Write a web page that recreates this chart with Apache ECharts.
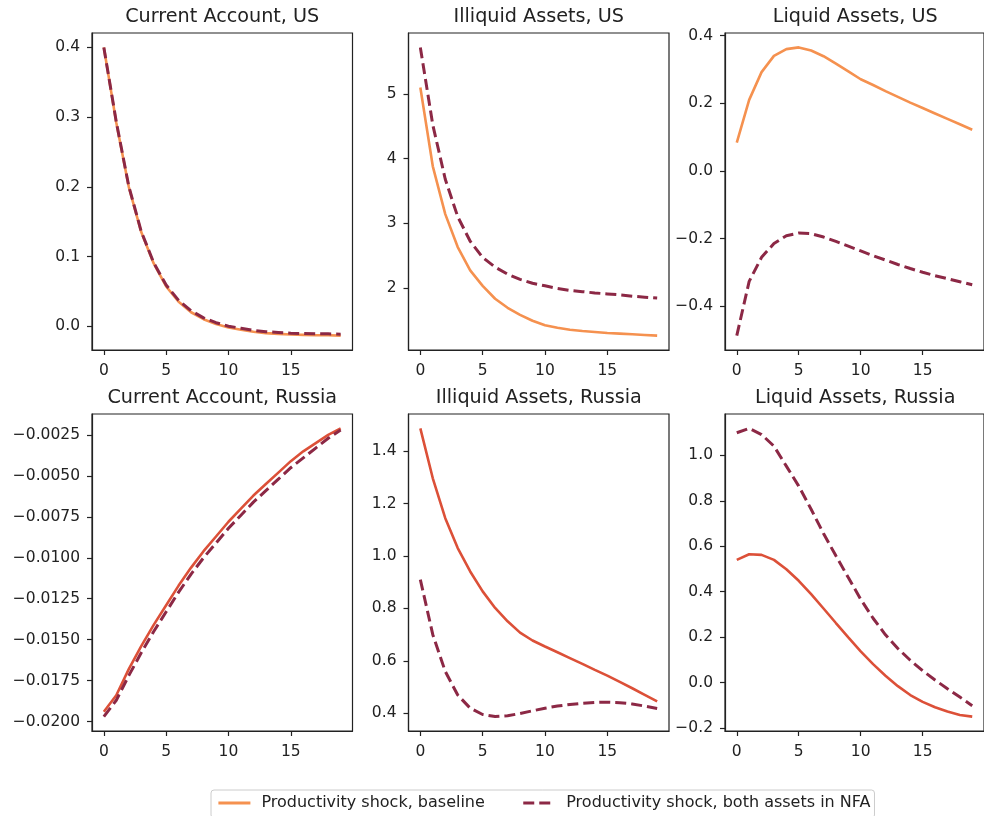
<!DOCTYPE html>
<html><head><meta charset="utf-8">
<script src="https://cdn.jsdelivr.net/npm/echarts@6/dist/echarts.min.js"></script>
<style>html,body{margin:0;padding:0;background:#fff}#c{width:984px;height:816px}</style>
</head><body><div id="c"></div>
<script>
// ---------------- data ----------------
const periods = [0,1,2,3,4,5,6,7,8,9,10,11,12,13,14,15,16,17,18,19];

const titles = ['Current Account, US','Illiquid Assets, US','Liquid Assets, US',
                'Current Account, Russia','Illiquid Assets, Russia','Liquid Assets, Russia'];
const seriesNames = ['Productivity shock, baseline','Productivity shock, both assets in NFA'];

const caUS_base  = [0.400,0.292,0.200,0.135,0.090,0.057,0.035,0.020,0.010,0.003,-0.002,-0.005,-0.008,-0.010,-0.011,-0.012,-0.0125,-0.013,-0.013,-0.0135];
const caUS_nfa   = [0.400,0.293,0.201,0.136,0.091,0.059,0.037,0.022,0.012,0.005,0.000,-0.003,-0.006,-0.008,-0.009,-0.010,-0.0105,-0.011,-0.011,-0.0115];
const illUS_base = [5.10,3.88,3.14,2.63,2.27,2.03,1.83,1.69,1.58,1.49,1.42,1.38,1.35,1.33,1.315,1.30,1.29,1.28,1.27,1.26];
const illUS_nfa  = [5.72,4.52,3.68,3.10,2.72,2.47,2.32,2.21,2.13,2.07,2.03,1.99,1.96,1.94,1.92,1.905,1.89,1.87,1.855,1.84];
const liqUS_base = [0.084,0.210,0.292,0.340,0.360,0.365,0.356,0.339,0.317,0.294,0.271,0.254,0.236,0.219,0.202,0.186,0.170,0.154,0.138,0.122];
const liqUS_nfa  = [-0.486,-0.326,-0.255,-0.214,-0.191,-0.183,-0.185,-0.195,-0.208,-0.222,-0.236,-0.250,-0.263,-0.276,-0.288,-0.299,-0.309,-0.318,-0.327,-0.336];
const caRU_base  = [-0.0194,-0.0184,-0.0168,-0.0154,-0.0141,-0.0129,-0.0117,-0.0106,-0.0096,-0.0087,-0.0078,-0.0070,-0.0062,-0.0055,-0.0048,-0.0041,-0.0035,-0.0030,-0.0025,-0.0021];
const caRU_nfa   = [-0.0197,-0.0187,-0.0172,-0.0158,-0.0145,-0.0133,-0.0121,-0.0110,-0.0100,-0.0091,-0.0082,-0.0074,-0.0066,-0.0059,-0.0052,-0.0045,-0.0039,-0.0033,-0.0027,-0.0022];
const illRU_base = [1.486,1.296,1.144,1.030,0.941,0.865,0.802,0.751,0.708,0.678,0.655,0.633,0.611,0.589,0.566,0.544,0.520,0.496,0.471,0.446];
const illRU_nfa  = [0.910,0.700,0.560,0.470,0.420,0.396,0.388,0.391,0.400,0.410,0.420,0.428,0.434,0.439,0.442,0.443,0.441,0.436,0.428,0.419];
const liqRU_base = [0.540,0.565,0.562,0.540,0.499,0.448,0.389,0.326,0.262,0.199,0.137,0.081,0.030,-0.016,-0.055,-0.085,-0.109,-0.128,-0.143,-0.150];
const liqRU_nfa  = [1.100,1.119,1.092,1.041,0.953,0.865,0.763,0.656,0.558,0.462,0.367,0.283,0.210,0.150,0.098,0.052,0.011,-0.027,-0.064,-0.102];

const xTicks = [0,5,10,15];
const yTicks = [
  [0,0.1,0.2,0.3,0.4],
  [2,3,4,5],
  [-0.4,-0.2,0,0.2,0.4],
  [-0.02,-0.0175,-0.015,-0.0125,-0.01,-0.0075,-0.005,-0.0025],
  [0.4,0.6,0.8,1.0,1.2,1.4],
  [-0.2,0,0.2,0.4,0.6,0.8,1.0]
];
const yDecimals = [1,0,1,4,1,1];

// ---------------- layout / style ----------------
const panels = [
  [caUS_base, caUS_nfa], [illUS_base, illUS_nfa], [liqUS_base, liqUS_nfa],
  [caRU_base, caRU_nfa], [illRU_base, illRU_nfa], [liqRU_base, liqRU_nfa]
];
const colLeft = [92, 408.5, 725];
const rowTop = [33, 414];
const gW = 260.5, gH = 317;
const solidColors = ['#F5914F','#F5914F','#F5914F','#DC5038','#DC5038','#DC5038'];
const dashColor = '#8C2845';
const txt = '#222';
const FONT = 'DejaVu Sans';
const fmt = (v, d) => v.toFixed(d).replace('-', '\u2212');

function pad(arrs) {
  let lo = Infinity, hi = -Infinity;
  arrs.forEach(a => a.forEach(v => { lo = Math.min(lo, v); hi = Math.max(hi, v); }));
  const m = 0.05 * (hi - lo);
  return [lo - m, hi + m];
}

const grids = [], xAxes = [], yAxes = [], series = [], titleArr = [];
const [xmin, xmax] = pad([periods]);
panels.forEach((pair, i) => {
  const r = Math.floor(i / 3), c = i % 3;
  grids.push({left: colLeft[c], top: rowTop[r], width: gW, height: gH, show: true,
    borderColor: '#222', borderWidth: 1.2, backgroundColor: 'transparent', containLabel: false});
  xAxes.push({type: 'value', gridIndex: i, min: xmin, max: xmax,
    axisLine: {show: true, onZero: false, lineStyle: {color: '#222', width: 1.2}},
    splitLine: {show: false},
    axisTick: {show: true, inside: false, length: 5, lineStyle: {color: '#222', width: 1.2}, customValues: xTicks},
    axisLabel: {customValues: xTicks, margin: 13, fontSize: 15.5, color: txt, fontFamily: FONT,
      formatter: v => fmt(v, 0)}});
  const [ymin, ymax] = pad(pair);
  yAxes.push({type: 'value', gridIndex: i, min: ymin, max: ymax,
    axisLine: {show: true, onZero: false, lineStyle: {color: '#222', width: 1.2}},
    splitLine: {show: false},
    axisTick: {show: true, inside: false, length: 5, lineStyle: {color: '#222', width: 1.2}, customValues: yTicks[i]},
    axisLabel: {customValues: yTicks[i], margin: 12, fontSize: 15.5, color: txt, fontFamily: FONT,
      formatter: v => fmt(v, yDecimals[i])}});
  titleArr.push({text: titles[i], left: colLeft[c] + gW / 2, top: rowTop[r] - 25, textAlign: 'center',
    padding: 0,
    textStyle: {fontSize: 19.2, fontWeight: 'normal', color: txt, fontFamily: FONT}});
  series.push({name: seriesNames[0], type: 'line', xAxisIndex: i, yAxisIndex: i, symbol: 'none',
    data: periods.map((p, k) => [p, pair[0][k]]), lineStyle: {color: solidColors[i], width: 2.6},
    itemStyle: {color: solidColors[i]}, z: 2, silent: true, animation: false});
  series.push({name: seriesNames[1], type: 'line', xAxisIndex: i, yAxisIndex: i, symbol: 'none',
    data: periods.map((p, k) => [p, pair[1][k]]), lineStyle: {color: dashColor, width: 3, type: [11, 5]},
    itemStyle: {color: dashColor}, z: 3, silent: true, animation: false});
});

const chart = echarts.init(document.getElementById('c'), null, {renderer: 'canvas'});
chart.setOption({
  backgroundColor: '#fff',
  animation: false,
  title: titleArr,
  grid: grids,
  xAxis: xAxes,
  yAxis: yAxes,
  series: series,
  legend: {data: seriesNames, left: 211, top: 790, padding: [4, 4, 6, 6], itemWidth: 32, itemHeight: 14,
    itemGap: 37, borderColor: '#ccc', borderWidth: 1, borderRadius: 3,
    itemStyle: {color: 'transparent', borderWidth: 0, opacity: 0},
    lineStyle: {width: 2.8},
    textStyle: {fontSize: 16, lineHeight: 18, color: txt, fontFamily: FONT, padding: [0, 0, 0, 6]}}
});
</script></body></html>
